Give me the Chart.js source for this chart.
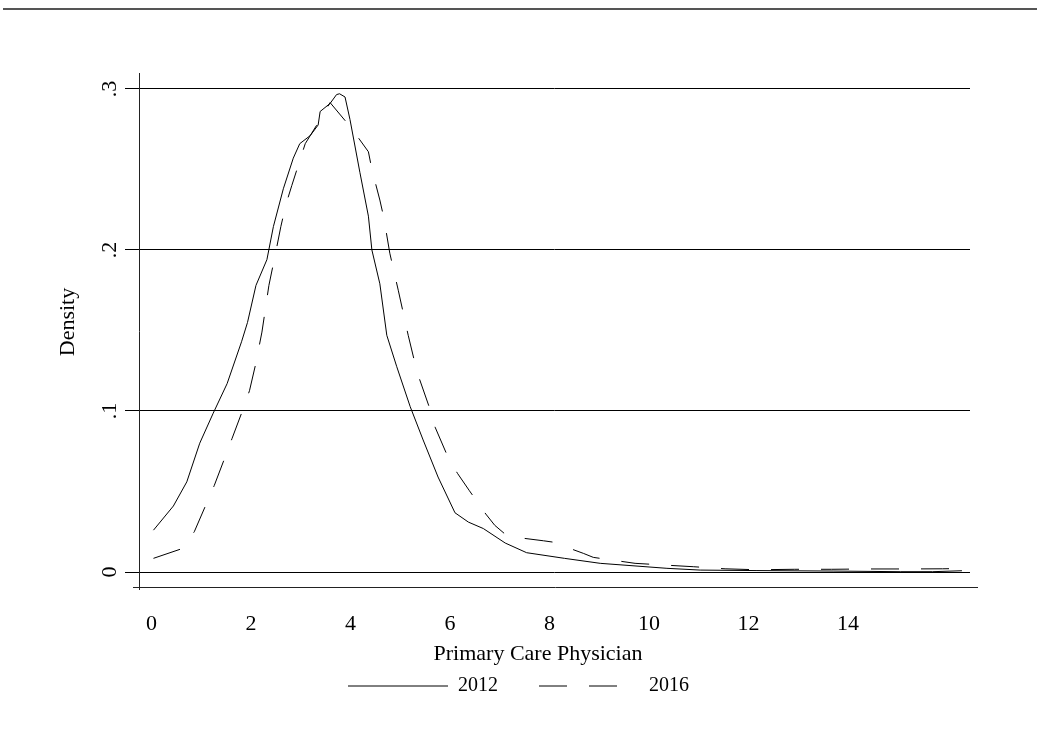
<!DOCTYPE html>
<html>
<head>
<meta charset="utf-8">
<script src="https://cdn.jsdelivr.net/npm/chart.js@4.4.1/dist/chart.umd.min.js"></script>
<style>
html,body{margin:0;padding:0;background:#fff;}
#wrap{position:relative;width:1037px;height:749px;}
</style>
</head>
<body>
<div id="wrap"><canvas id="c" width="1037" height="749"></canvas></div>
<script>
// ---- data ----
const seriesNames = ["2012", "2016"];
const x2012 = [0.04,0.44,0.71,0.97,1.24,1.52,1.81,1.93,2.10,2.32,2.45,2.65,2.85,2.98,3.19,3.35,3.39,3.59,3.72,3.78,3.89,3.99,4.19,4.36,4.43,4.59,4.73,4.93,5.20,5.46,5.76,6.10,6.37,6.67,7.11,7.54,8.30,9.02,10.36,11.03,12.17,13.70,15.05,15.70,16.29];
const y2012 = [0.026,0.041,0.056,0.080,0.0986,0.117,0.143,0.155,0.178,0.194,0.2145,0.238,0.257,0.266,0.271,0.2776,0.286,0.291,0.2965,0.297,0.295,0.281,0.248,0.221,0.200,0.179,0.147,0.1275,0.1027,0.082,0.059,0.0368,0.031,0.027,0.018,0.012,0.0085,0.0054,0.0023,0.0012,0.0009,0.0006,0.0002,0.0002,0.0008];
const x2016 = [0.04,0.63,0.86,1.26,1.45,1.62,1.81,1.97,2.09,2.22,2.36,2.50,2.60,2.70,2.82,3.09,3.35,3.59,4.02,4.36,4.43,4.59,4.67,4.79,4.96,5.16,5.34,5.58,5.70,5.97,6.15,6.39,6.72,6.90,7.17,7.39,7.88,8.11,8.29,8.68,8.88,9.72,10.32,10.89,11.53,12.17,12.93,13.67,14.40,15.15,15.90,16.29];
const y2016 = [0.0085,0.0147,0.025,0.0536,0.069,0.083,0.0986,0.1126,0.1286,0.149,0.178,0.199,0.2145,0.228,0.240,0.266,0.279,0.2915,0.2756,0.261,0.250,0.231,0.220,0.198,0.175,0.147,0.124,0.1027,0.090,0.0706,0.0613,0.0505,0.036,0.029,0.0219,0.0213,0.0194,0.0184,0.016,0.0116,0.0091,0.0054,0.0043,0.0033,0.0020,0.0014,0.0017,0.0017,0.0019,0.0019,0.0020,0.0022];
const xTicks = [0,2,4,6,8,10,12,14];
const yTicks = [0,0.1,0.2,0.3];
const yTickLabels = ["0",".1",".2",".3"];
const xTitle = "Primary Care Physician";
const yTitle = "Density";

const FONT = "'Liberation Serif', 'Times New Roman', serif";
const FS = 22;
const toPts = (xs, ys) => xs.map((x, i) => ({x: x, y: ys[i]}));

const decor = {
  id: 'decor',
  beforeDraw(chart) {
    const ctx = chart.ctx;
    ctx.save();
    ctx.fillStyle = '#fff';
    ctx.fillRect(0, 0, chart.width, chart.height);
    ctx.strokeStyle = '#555';
    ctx.lineWidth = 2;
    ctx.beginPath(); ctx.moveTo(3, 9); ctx.lineTo(chart.width, 9); ctx.stroke();
    ctx.restore();
  },
  afterDraw(chart) {
    const ctx = chart.ctx, a = chart.chartArea;
    ctx.save();
    ctx.strokeStyle = '#222';
    ctx.lineWidth = 1;
    // x axis line
    ctx.beginPath(); ctx.moveTo(a.left - 6, Math.round(a.bottom) + 0.5); ctx.lineTo(a.right + 8, Math.round(a.bottom) + 0.5); ctx.stroke();
    // y axis line
    ctx.beginPath(); ctx.moveTo(Math.round(a.left) + 0.5, a.top); ctx.lineTo(Math.round(a.left) + 0.5, a.bottom + 3); ctx.stroke();
    // axis titles
    ctx.fillStyle = '#000';
    ctx.font = FS + "px " + FONT;
    ctx.textAlign = 'center';
    ctx.textBaseline = 'middle';
    ctx.fillText(xTitle, 538, 654);
    ctx.translate(68, 322);
    ctx.rotate(-Math.PI / 2);
    ctx.fillText(yTitle, 0, 0);
    ctx.restore();
  }
};

new Chart(document.getElementById('c'), {
  type: 'line',
  data: {
    datasets: [
      { label: seriesNames[0], data: toPts(x2012, y2012), borderColor: '#000', borderWidth: 1, pointRadius: 0, tension: 0, fill: false },
      { label: seriesNames[1], data: toPts(x2016, y2016), borderColor: '#000', borderWidth: 1, borderDash: [28, 22], pointRadius: 0, tension: 0, fill: false }
    ]
  },
  options: {
    responsive: false,
    animation: false,
    events: [],
    layout: { padding: { left: 0, right: 0, top: 73, bottom: 43 } },
    plugins: {
      tooltip: { enabled: false },
      legend: {
        position: 'bottom',
        labels: {
          usePointStyle: true,
          pointStyle: 'line',
          pointStyleWidth: 100,
          color: '#000',
          font: { family: FONT, size: 20 },
          padding: 41,
          generateLabels: (chart) => {
            const items = Chart.defaults.plugins.legend.labels.generateLabels(chart);
            items.forEach((it) => {
              const ds = chart.data.datasets[it.datasetIndex];
              it.lineDash = ds.borderDash || [];
              it.lineWidth = 1;
              it.strokeStyle = '#000';
            });
            return items;
          }
        }
      }
    },
    scales: {
      x: {
        type: 'linear',
        min: -0.251,
        max: 16.452,
        afterBuildTicks: (s) => { s.ticks = xTicks.map(v => ({value: v})); },
        afterFit: (s) => { s.height = 48; },
        grid: { display: false, drawTicks: false },
        border: { display: false },
        ticks: { color: '#000', font: { family: FONT, size: FS }, padding: 24, maxRotation: 0, minRotation: 0, autoSkip: false, callback: (v) => String(v) }
      },
      y: {
        type: 'linear',
        min: -0.0093,
        max: 0.3099,
        afterBuildTicks: (s) => { s.ticks = yTicks.map(v => ({value: v})); },
        afterFit: (s) => { s.width = 139; },
        grid: { display: true, color: '#000', lineWidth: 1, drawTicks: true, tickLength: 14, tickColor: '#000' },
        border: { display: false },
        ticks: {
          color: '#000', font: { family: FONT, size: FS }, padding: 7,
          minRotation: 90, maxRotation: 90, crossAlign: 'center', autoSkip: false,
          callback: (v) => { const i = yTicks.findIndex(t => Math.abs(t - v) < 1e-9); return i >= 0 ? yTickLabels[i] : ''; }
        },
        title: { display: false }
      },
      yPad: {
        type: 'linear',
        position: 'right',
        display: true,
        grid: { display: false, drawTicks: false },
        border: { display: false },
        ticks: { display: false },
        afterFit: (s) => { s.width = 67; }
      }
    }
  },
  plugins: [decor]
});
</script>
</body>
</html>
